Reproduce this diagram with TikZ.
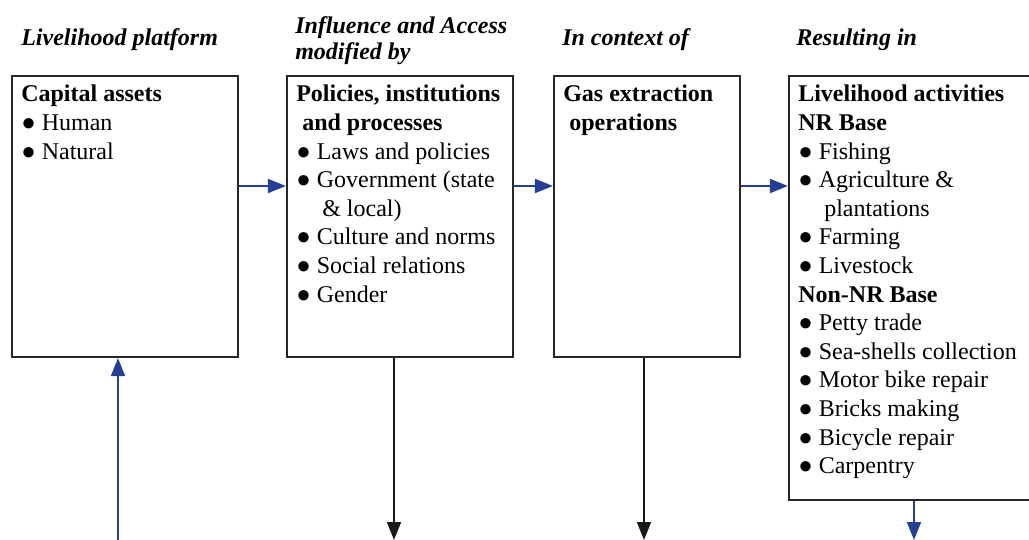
\documentclass[tikz,border=0pt]{standalone}
\usepackage{fontspec}
\setmainfont{Liberation Serif}
\usetikzlibrary{arrows.meta,positioning}
\definecolor{linkblue}{RGB}{36,64,150}
\newcommand{\itm}{●~}
\tikzset{
  box/.style={draw=black!85,line width=1.1pt,minimum height=140.5pt,inner sep=0pt},
  boxtext/.style={anchor=north west,inner xsep=5pt,inner ysep=5pt,align=left,
    font=\fontsize{12}{14.3}\selectfont},
  head/.style={anchor=base west,inner sep=0pt,align=left,
    font=\fontsize{12}{13.3}\selectfont\bfseries\itshape},
  link/.style={-{Triangle[length=9pt,width=7pt]},line width=0.9pt,linkblue},
  outflow/.style={-{Triangle[length=9pt,width=7pt]},line width=0.9pt,black!90}
}
\begin{document}
\begin{tikzpicture}[x=0.5pt,y=-0.5pt]
\useasboundingbox (0,0) rectangle (1029,540);
\clip (0,0) rectangle (1029,540);

% boxes
\node[box,minimum width=113pt] (assets) at (125,216.5) {};
\node[box,minimum width=113pt] (policies) at (400,216.5) {};
\node[box,minimum width=93pt] (gas) at (647,216.5) {};
\node[box,minimum width=126pt,minimum height=212pt] (activities) at (915,288) {};

% headings
\node[head] (h1) at ([shift={(5pt,14.5pt)}]assets.north west) {Livelihood platform};
\node[head] (h2) at ([shift={(4.5pt,7.5pt)}]policies.north west) {Influence and Access\\modified by};
\node[head] (h3) at ([shift={(4.5pt,14.5pt)}]gas.north west) {In context of};
\node[head] (h4) at ([shift={(4pt,14.5pt)}]activities.north west) {Resulting in};

% box texts
\node[boxtext] (t1) at (assets.north west) {\textbf{Capital assets}\\\itm Human\\\itm Natural};
\node[boxtext] (t2) at (policies.north west) {\textbf{Policies, institutions}\\
  \hspace*{3pt}\textbf{and processes}\\
  \itm Laws and policies\\
  \itm Government (state\\
  \hspace*{13pt}\& local)\\
  \itm Culture and norms\\
  \itm Social relations\\
  \itm Gender};
\node[boxtext] (t3) at (gas.north west) {\textbf{Gas extraction}\\\hspace*{3pt}\textbf{operations}};
\node[boxtext] (t4) at (activities.north west) {\textbf{Livelihood activities}\\
  \textbf{NR Base}\\
  \itm Fishing\\
  \itm Agriculture \&\\
  \hspace*{13pt}plantations\\
  \itm Farming\\
  \itm Livestock\\
  \textbf{Non-NR Base}\\
  \itm Petty trade\\
  \itm Sea-shells collection\\
  \itm Motor bike repair\\
  \itm Bricks making\\
  \itm Bicycle repair\\
  \itm Carpentry};

% links
\draw[link] ([yshift=15.25pt]assets.east) -- ([yshift=15.25pt]policies.west);
\draw[link] ([yshift=15.25pt]policies.east) -- ([yshift=15.25pt]gas.west);
\draw[link] ([yshift=15.25pt]gas.east) coordinate (g1) -- (g1 -| activities.west);

\coordinate (in1) at (118,540);
\coordinate (out2) at (394,540);
\coordinate (out3) at (644,540);
\coordinate (out4) at (914,540);
\draw[link] (in1) -- (in1 |- assets.south);
\draw[outflow] (policies.south -| out2) -- (out2);
\draw[outflow] (gas.south -| out3) -- (out3);
\draw[link] (activities.south -| out4) -- (out4);
\end{tikzpicture}
\end{document}
